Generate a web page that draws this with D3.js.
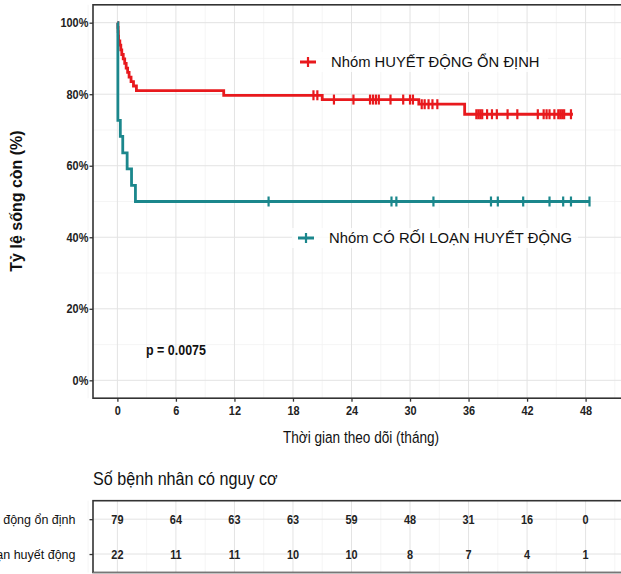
<!DOCTYPE html>
<html>
<head>
<meta charset="utf-8">
<script src="https://cdn.jsdelivr.net/npm/d3@7"></script>
<style>
  body { margin: 0; background: #fff; }
  svg { display: block; }
</style>
</head>
<body>
<div id="chart"></div>
<script>
// legend / table labels
const groupNames = ["Nhóm HUYẾT ĐỘNG ỔN ĐỊNH", "Nhóm CÓ RỐI LOẠN HUYẾT ĐỘNG"];
const tableLabels = ["Nhóm huyết động ổn định", "Nhóm có rối loạn huyết động"];
const groupColors = ["#e8191d", "#1b878c"];

// Kaplan-Meier steps: [time (months), survival %]
const stableSteps = [
  [0, 100], [0.05, 98.7], [0.08, 97.5], [0.1, 96.2], [0.12, 94.9], [0.25, 93.7],
  [0.35, 92.4], [0.45, 91.1], [0.6, 89.9], [0.75, 88.6], [0.9, 87.3], [1.05, 86.1],
  [1.2, 84.8], [1.4, 83.5], [1.65, 82.3], [1.95, 81.0], [10.9, 79.7], [21.0, 78.5],
  [30.9, 77.2], [35.6, 74.4]
];
const stableEnd = 46.7;
const stableCensor = [
  20.1, 20.5, 22.2, 24.2, 25.9, 26.2, 26.5, 26.8, 28.0, 29.3, 30.0, 30.3, 31.2, 31.5,
  31.9, 32.3, 32.8, 36.8, 37.0, 37.2, 37.4, 37.9, 38.4, 38.9, 40.0, 41.0, 43.1, 43.7,
  44.0, 44.3, 44.8, 45.2, 45.4, 45.6, 45.8, 46.5
];

const unstableSteps = [
  [0, 100], [0.05, 72.7], [0.3, 68.2], [0.55, 63.6], [1.0, 59.1], [1.45, 54.5], [1.85, 50.0]
];
const unstableEnd = 48.4;
const unstableCensor = [15.5, 28.1, 28.6, 32.4, 38.3, 39.0, 41.6, 44.3, 45.7, 46.5, 48.4];

// number at risk
const xTicks = [0, 6, 12, 18, 24, 30, 36, 42, 48];
const riskStable = [79, 64, 63, 63, 59, 48, 31, 16, 0];
const riskUnstable = [22, 11, 11, 10, 10, 8, 7, 4, 1];
const yTicks = [0, 20, 40, 60, 80, 100];
const pText = "p = 0.0075";

const font = "'Liberation Sans', Arial, sans-serif";
const squeeze = 0.84; // the original uses a condensed face

const W = 621, H = 574;
const svg = d3.select("#chart").append("svg").attr("width", W).attr("height", H);

const x = d3.scaleLinear().domain([-2.5, 52.5]).range([93, 629.5]);
const y = d3.scaleLinear().domain([-5, 105]).range([398.2, 4.8]);

const series = [
  { name: groupNames[0], color: groupColors[0], steps: stableSteps, end: stableEnd, censor: stableCensor },
  { name: groupNames[1], color: groupColors[1], steps: unstableSteps, end: unstableEnd, censor: unstableCensor }
];

function survAt(steps, t) {
  let s = steps[0][1];
  for (const st of steps) if (st[0] <= t) s = st[1];
  return s;
}

// condensed text placed at (px, py)
function narrowText(g, px, py, k) {
  return g.append("text")
    .attr("transform", "translate(" + px + "," + py + ") scale(" + (k || squeeze) + ",1)")
    .attr("font-family", font);
}

// ---- main panel ----
const plot = svg.append("g");
const xMinor = d3.range(-3, 54, 3).filter((d) => d % 6 !== 0);
const yMinor = d3.range(10, 101, 20);

plot.selectAll(".vminor").data(xMinor).enter().append("line")
  .attr("x1", (d) => x(d)).attr("x2", (d) => x(d))
  .attr("y1", y(105)).attr("y2", y(-5))
  .attr("stroke", "#f0f0f0").attr("stroke-width", 0.7);
plot.selectAll(".hminor").data(yMinor).enter().append("line")
  .attr("x1", x(-2.5)).attr("x2", x(52.5))
  .attr("y1", (d) => y(d)).attr("y2", (d) => y(d))
  .attr("stroke", "#f0f0f0").attr("stroke-width", 0.7);
plot.selectAll(".vmajor").data(xTicks.concat([54])).enter().append("line")
  .attr("x1", (d) => x(d)).attr("x2", (d) => x(d))
  .attr("y1", y(105)).attr("y2", y(-5))
  .attr("stroke", "#e3e3e3").attr("stroke-width", 1);
plot.selectAll(".hmajor").data(yTicks).enter().append("line")
  .attr("x1", x(-2.5)).attr("x2", x(52.5))
  .attr("y1", (d) => y(d)).attr("y2", (d) => y(d))
  .attr("stroke", "#e3e3e3").attr("stroke-width", 1);

// legend boxes (white background) drawn under curves
const legendPos = [[308, 62], [306, 238]];
plot.selectAll(".legbg").data(legendPos).enter().append("rect")
  .attr("x", (d) => d[0] - 14).attr("y", (d) => d[1] - 10)
  .attr("width", (d, i) => (i === 0 ? 254 : 286)).attr("height", 20)
  .attr("fill", "#fff").attr("opacity", 0.8);

const line = d3.line().curve(d3.curveStepAfter).x((d) => x(d[0])).y((d) => y(d[1]));

series.forEach(function (s) {
  const pts = s.steps.concat([[s.end, s.steps[s.steps.length - 1][1]]]);
  plot.append("path")
    .attr("d", line(pts))
    .attr("fill", "none")
    .attr("stroke", s.color)
    .attr("stroke-width", 2.8);
  plot.selectAll(null).data(s.censor).enter().append("line")
    .attr("x1", (d) => x(d)).attr("x2", (d) => x(d))
    .attr("y1", (d) => y(survAt(s.steps, d)) - 5)
    .attr("y2", (d) => y(survAt(s.steps, d)) + 5)
    .attr("stroke", s.color).attr("stroke-width", 2.2);
});

// legend
series.forEach(function (s, i) {
  const p = legendPos[i];
  const g = plot.append("g").attr("transform", "translate(" + p[0] + "," + p[1] + ")");
  g.append("line").attr("x1", -8).attr("x2", 8).attr("y1", 0).attr("y2", 0)
    .attr("stroke", s.color).attr("stroke-width", 3);
  g.append("line").attr("x1", 0).attr("x2", 0).attr("y1", -5).attr("y2", 5)
    .attr("stroke", s.color).attr("stroke-width", 2.2);
  g.append("text").attr("x", 23).attr("y", 5)
    .attr("font-family", font).attr("font-size", 14.8).attr("fill", "#111")
    .text(s.name);
});

// panel border
plot.append("rect")
  .attr("x", x(-2.5)).attr("y", y(105))
  .attr("width", x(52.5) - x(-2.5)).attr("height", y(-5) - y(105))
  .attr("fill", "none").attr("stroke", "#333").attr("stroke-width", 1.6);

// axes
const yAxis = plot.append("g").attr("transform", "translate(" + x(-2.5) + ",0)")
  .call(d3.axisLeft(y).tickValues(yTicks).tickFormat((d) => d + "%").tickSize(3.5).tickPadding(2));
const xAxis = plot.append("g").attr("transform", "translate(0," + y(-5) + ")")
  .call(d3.axisBottom(x).tickValues(xTicks).tickSize(3.5).tickPadding(4));
[yAxis, xAxis].forEach(function (a) {
  a.select(".domain").remove();
  a.selectAll(".tick line").attr("stroke", "#333").attr("stroke-width", 1.3);
  a.selectAll(".tick text").attr("font-family", font).attr("font-weight", "bold")
    .attr("font-size", 13).attr("fill", "#222")
    .attr("transform", "scale(" + squeeze + ",1)");
});

narrowText(plot, 361, 443, 0.8)
  .attr("text-anchor", "middle")
  .attr("font-size", 17).attr("fill", "#111")
  .text("Thời gian theo dõi (tháng)");

plot.append("text")
  .attr("transform", "translate(22,201) rotate(-90)")
  .attr("text-anchor", "middle")
  .attr("font-family", font).attr("font-weight", "bold").attr("font-size", 16).attr("fill", "#111")
  .text("Tỷ lệ sống còn (%)");

narrowText(plot, 146, 355, 0.86)
  .attr("font-weight", "bold").attr("font-size", 14.5).attr("fill", "#111")
  .text(pText);

// ---- risk table ----
const table = svg.append("g");
const yt = d3.scalePoint().domain(tableLabels).range([500.7, 572.5]).padding(0.53);

narrowText(table, 93, 485, 0.85)
  .attr("font-size", 19).attr("fill", "#111")
  .text("Số bệnh nhân có nguy cơ");

table.selectAll(".tvminor").data(xMinor).enter().append("line")
  .attr("x1", (d) => x(d)).attr("x2", (d) => x(d))
  .attr("y1", 500.7).attr("y2", 572.5)
  .attr("stroke", "#f0f0f0").attr("stroke-width", 0.7);
table.selectAll(".tvmajor").data(xTicks.concat([54])).enter().append("line")
  .attr("x1", (d) => x(d)).attr("x2", (d) => x(d))
  .attr("y1", 500.7).attr("y2", 572.5)
  .attr("stroke", "#e3e3e3").attr("stroke-width", 1);
table.selectAll(".thmajor").data(tableLabels).enter().append("line")
  .attr("x1", 93).attr("x2", W)
  .attr("y1", (d) => yt(d)).attr("y2", (d) => yt(d))
  .attr("stroke", "#e3e3e3").attr("stroke-width", 1);

table.append("rect")
  .attr("x", 93).attr("y", 500.7).attr("width", 540).attr("height", 71.8)
  .attr("fill", "none").attr("stroke", "#333").attr("stroke-width", 1.6);
table.append("line").attr("x1", 93).attr("x2", W).attr("y1", 572.5).attr("y2", 572.5)
  .attr("stroke", "#777").attr("stroke-width", 1.2);

const tAxis = table.append("g").attr("transform", "translate(93,0)")
  .call(d3.axisLeft(yt).tickSize(3.5).tickPadding(14));
tAxis.select(".domain").remove();
tAxis.selectAll(".tick line").attr("stroke", "#333").attr("stroke-width", 1.3);
tAxis.selectAll(".tick text").attr("font-family", font).attr("font-size", 12.5).attr("fill", "#111");

[riskStable, riskUnstable].forEach(function (row, i) {
  table.selectAll(null).data(row).enter().append("text")
    .attr("transform", (d, j) => "translate(" + x(xTicks[j]) + "," + (yt(tableLabels[i]) + 4.5) + ") scale(" + squeeze + ",1)")
    .attr("text-anchor", "middle")
    .attr("font-family", font).attr("font-weight", "bold").attr("font-size", 13).attr("fill", "#222")
    .text((d) => d);
});
</script>
</body>
</html>
